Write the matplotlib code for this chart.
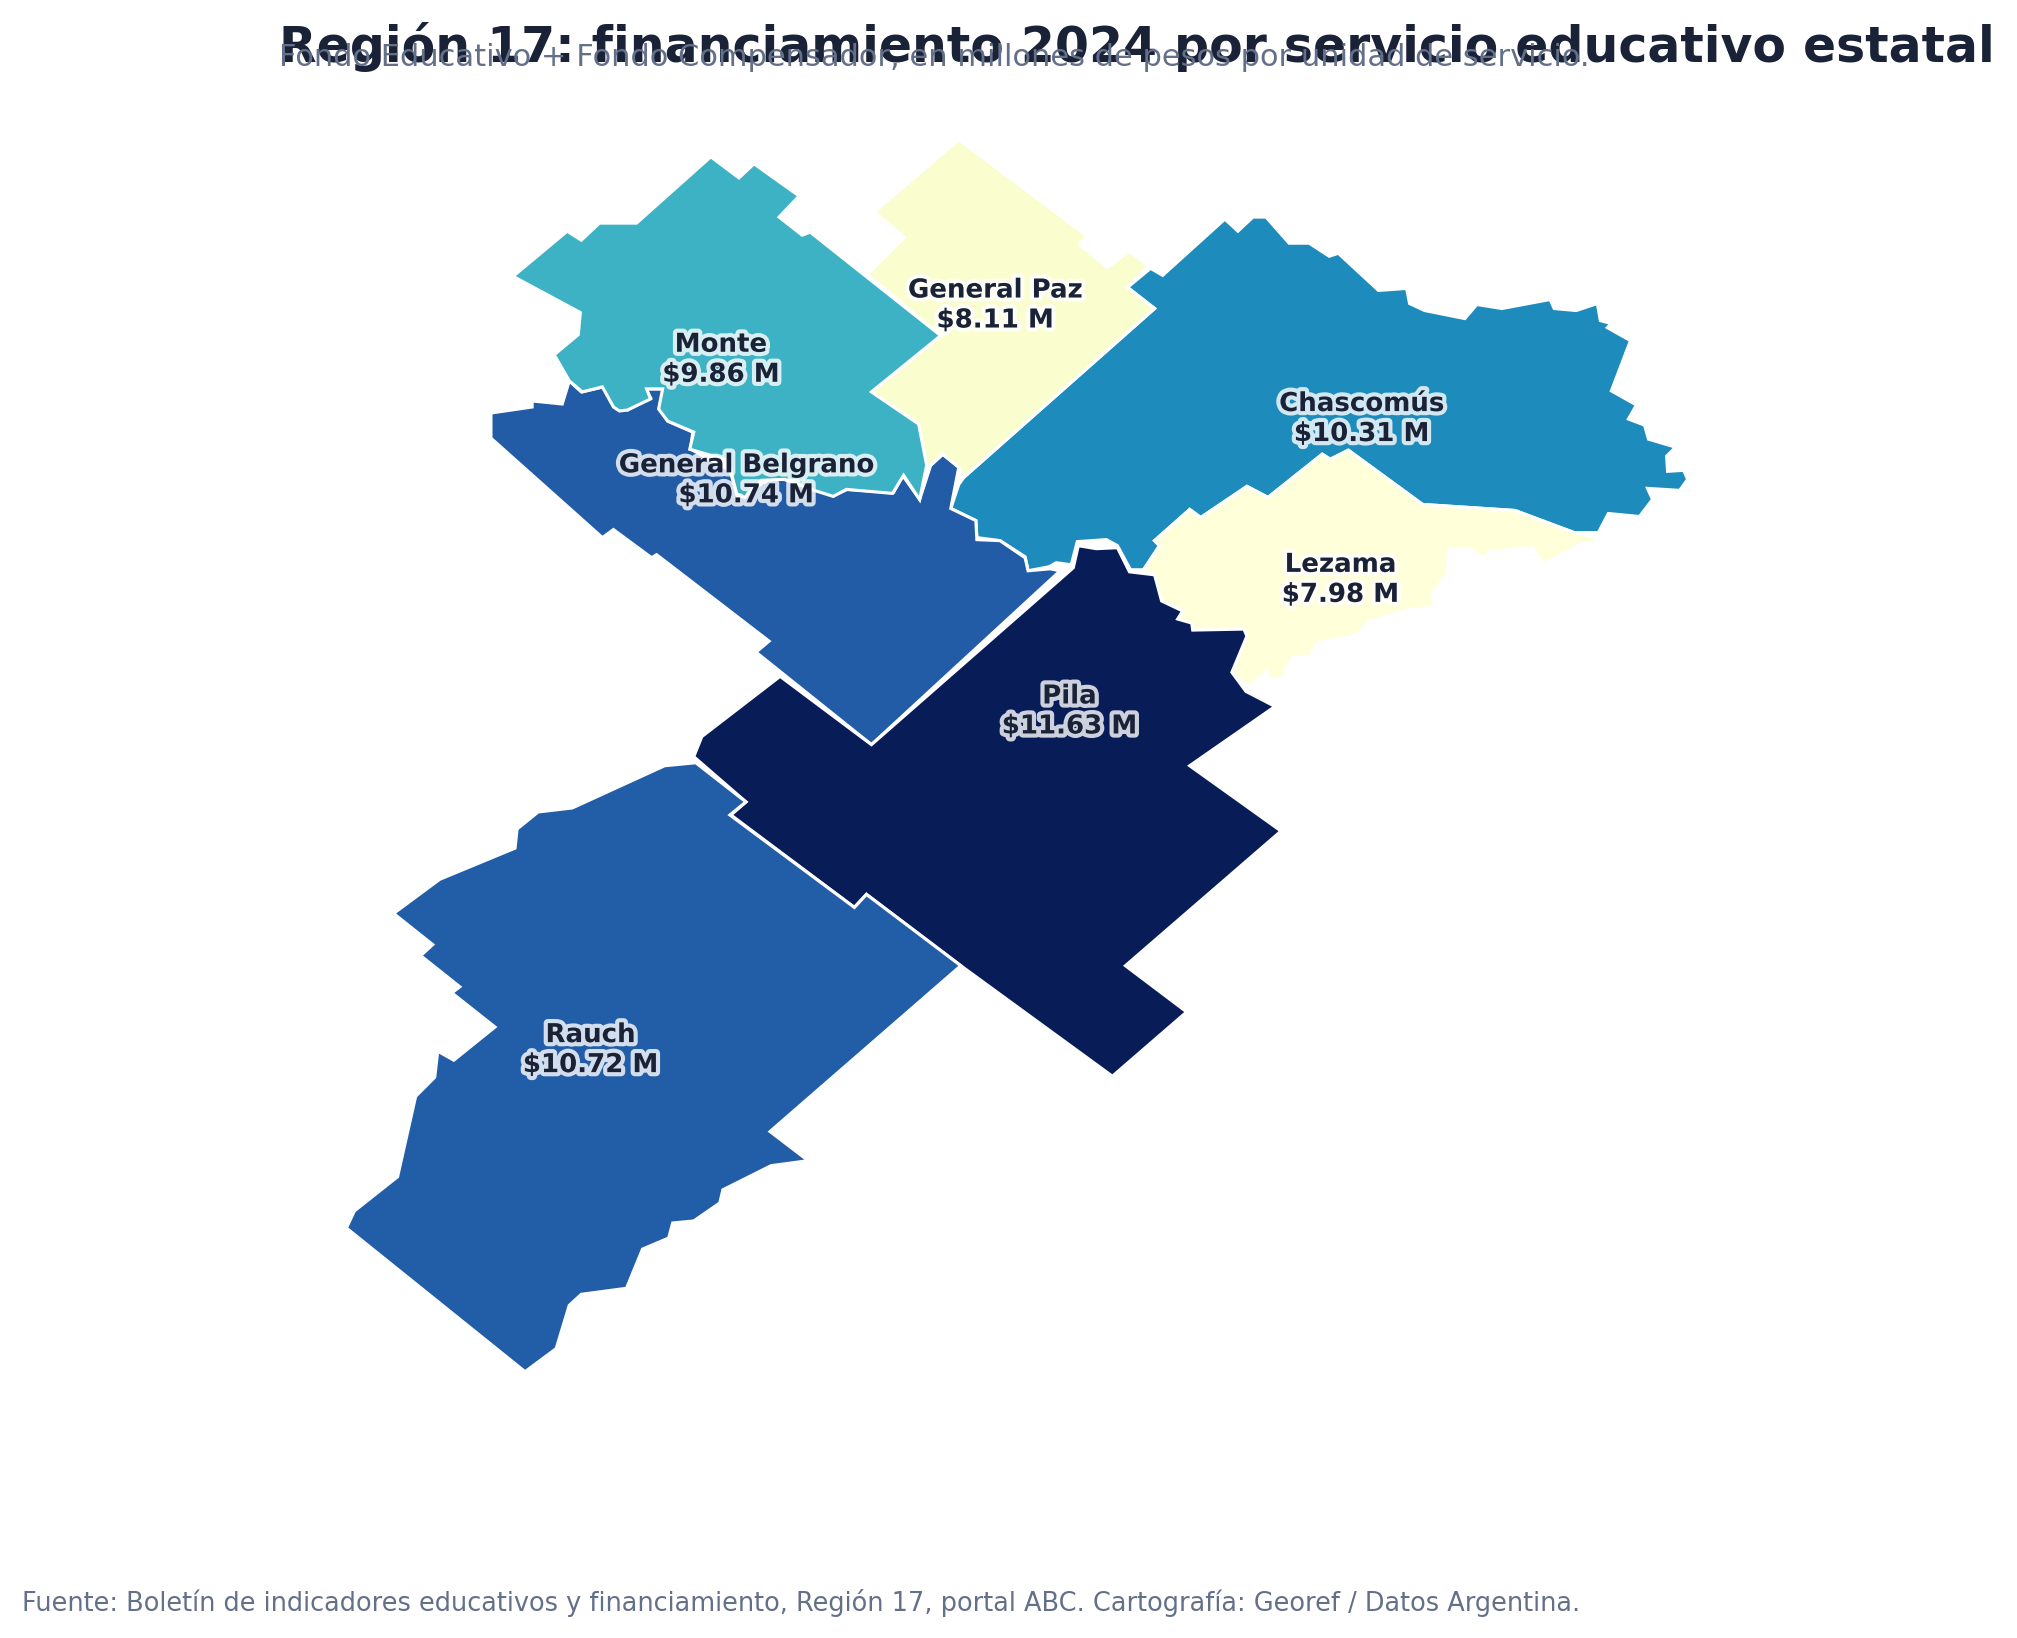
import matplotlib
matplotlib.use("Agg")
import matplotlib.pyplot as plt
from matplotlib.patches import Polygon
from matplotlib.colors import Normalize
import matplotlib.patheffects as pe

names = ["Chascomús", "General Belgrano", "General Paz", "Lezama", "Monte", "Pila", "Rauch"]
values = [10.31, 10.74, 8.11, 7.98, 9.86, 11.63, 10.72]

# outlines, in map units
chascomus = [(1127,291),(1150,272),(1162,279),(1224,223),(1237,235),(1252,221),(1265,221),(1288,247),
             (1308,247),(1328,260),(1337,257),(1377,294),(1405,292),(1408,307),(1423,314),(1463,322),
             (1475,308),(1500,312),(1548,303),(1552,312),(1574,314),(1595,307),(1598,324),(1609,327),
             (1605,331),(1628,344),(1609,394),(1634,408),(1626,422),(1642,428),(1646,442),(1673,450),
             (1664,459),(1665,474),(1681,473),(1685,482),(1677,493),(1645,491),(1650,502),(1637,519),
             (1606,516),(1596,535),(1572,535),(1513,513),(1421,507),(1347,453),(1329,462),(1321,457),
             (1267,500),(1246,489),(1200,520),(1189,512),(1154,543),(1159,548),(1143,572),(1130,572),
             (1117,548),(1106,542),(1077,544),(1071,567),(1056,565),(1049,569),(1028,573),(1025,559),
             (1000,543),(977,540),(976,523),(951,511),(959,487),(964,480),(1154,312)]
belgrano = [(493,416),(534,410),(534,404),(564,407),(571,384),(583,395),(605,390),(615,409),(629,413),
            (652,401),(647,392),(666,392),(661,411),(669,424),(694,435),(692,452),(731,473),(739,500),
            (776,479),(817,493),(834,498),(848,492),(894,495),(903,478),(920,502),(931,468),(943,457),
            (959,470),(951,511),(976,523),(977,542),(1000,543),(1025,560),(1028,573),(1050,571),
            (1060,573),(872,746),(757,654),(770,643),(658,557),(653,560),(615,532),(604,540),(493,441)]
paz = [(959,144),(1087,240),(1079,248),(1107,271),(1129,255),(1148,270),(1127,291),(1154,312),(964,480),
       (959,470),(943,457),(931,468),(927,468),(919,427),(872,395),(941,339),(868,278),(905,241),(875,216)]
lezama = [(1347,453),(1421,507),(1513,513),(1572,535),(1593,540),(1593,546),(1579,546),(1542,566),
          (1530,550),(1487,554),(1483,561),(1467,551),(1447,551),(1445,577),(1431,595),(1433,609),
          (1410,611),(1367,624),(1356,637),(1316,645),(1309,658),(1292,658),(1281,681),(1267,681),
          (1266,673),(1247,689),(1231,674),(1246,638),(1243,631),(1192,632),(1191,625),(1177,621),
          (1182,613),(1161,603),(1154,577),(1143,572),(1159,548),(1154,543),(1189,512),(1200,520),
          (1246,489),(1267,500),(1321,457),(1329,462)]
monte = [(515,280),(569,235),(583,244),(601,227),(638,227),(712,161),(740,182),(755,168),(800,200),
         (780,221),(803,239),(811,236),(941,339),(872,395),(919,427),(927,468),(920,502),(904,478),
         (893,496),(847,492),(834,499),(815,493),(786,482),(762,483),(746,500),(738,497),(729,463),
         (691,452),(695,435),(669,424),(660,412),(664,392),(648,392),(652,402),(629,413),(621,414),
         (615,410),(604,390),(584,395),(571,384),(556,358),(580,338),(582,316)]
pila = [(781,678),(703,738),(695,758),(747,803),(732,816),(855,908),(867,895),(961,966),(1112,1076),
        (1186,1012),(1125,966),(1280,832),(1189,767),(1274,708),(1245,693),(1231,674),(1246,638),
        (1243,631),(1192,632),(1191,625),(1177,621),(1182,613),(1161,603),(1154,577),(1129,574),
        (1117,550),(1096,551),(1078,548),(1073,570),(872,746)]
rauch = [(697,764),(747,803),(731,816),(855,908),(867,895),(961,966),(771,1131),(809,1160),(772,1165),
         (724,1189),(721,1202),(695,1220),(674,1222),(670,1237),(644,1248),(628,1287),(583,1293),
         (571,1304),(558,1347),(527,1370),(349,1227),(357,1210),(400,1176),(418,1096),(437,1077),
         (440,1051),(456,1060),(497,1027),(454,993),(462,987),(423,956),(435,945),(396,914),(442,880),
         (517,849),(519,830),(540,813),(574,809),(666,767)]
shapes = [chascomus, belgrano, paz, lezama, monte, pila, rauch]

label_x = [1360, 747, 995, 1339, 722, 1069, 592]
label_y = [422, 483, 309, 582, 363, 713, 1050]

DARK = "#1a2238"
GREY = "#64708a"

fig = plt.figure(figsize=(2017/150, 1639/150), dpi=150)
ax = fig.add_axes([0, 0, 1, 1])
# slightly tighter limits make up for the white edge eating into the fill
ax.set_xlim(4, 2013)
ax.set_ylim(1635, 4)
ax.axis("off")

norm = Normalize(min(values), max(values))
cmap = plt.get_cmap("YlGnBu")

for shape, v in zip(shapes, values):
    ax.add_patch(Polygon(shape, closed=True, facecolor=cmap(norm(v)), edgecolor="white", linewidth=1.5))

halo = [pe.withStroke(linewidth=4, foreground="white", alpha=0.8)]
for name, v, x, y in zip(names, values, label_x, label_y):
    ax.text(x, y, f"{name}\n${v:.2f} M", ha="center", va="center", fontsize=12.5,
            fontweight="bold", color=DARK, path_effects=halo)

fig.text(279/2017, 1-47.5/1639, "Región 17: financiamiento 2024 por servicio educativo estatal",
         fontsize=23.45, fontweight="bold", color=DARK, va="center", ha="left")
fig.text(279/2017, 1-57/1639, "Fondo Educativo + Fondo Compensador, en millones de pesos por unidad de servicio.",
         fontsize=14.65, color=GREY, va="center", ha="left")
fig.text(22/2017, 1-1603/1639, "Fuente: Boletín de indicadores educativos y financiamiento, Región 17, portal ABC. Cartografía: Georef / Datos Argentina.",
         fontsize=12.3, color=GREY, va="center", ha="left")

fig.savefig("out.png", dpi=150)
